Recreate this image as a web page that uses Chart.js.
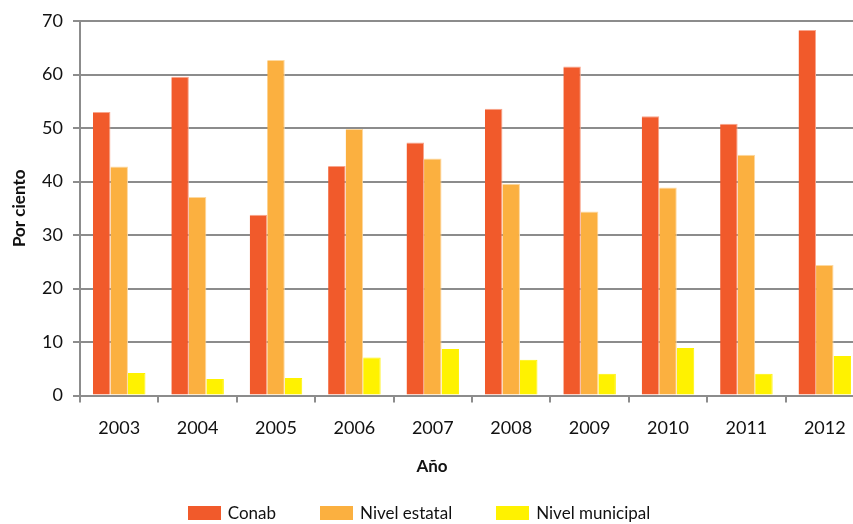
<!DOCTYPE html>
<html>
<head>
<meta charset="utf-8">
<script src="https://cdn.jsdelivr.net/npm/chart.js@4/dist/chart.umd.min.js"></script>
<style>
  body { margin: 0; overflow: hidden; background: #fff; }
  .wrap { position: relative; width: 864px; height: 524px; }
  #legend {
    position: absolute; left: 0; top: 502px; width: 838px;
    display: flex; justify-content: center; gap: 44px;
    font: 17px Lato, sans-serif; color: #111;
  }
  #legend .item { display: flex; align-items: center; }
  #legend .swatch { width: 33px; height: 14px; margin-right: 7px; }
</style>
</head>
<body>
<div class="wrap">
  <canvas id="chart" width="864" height="524"></canvas>
  <div id="legend"></div>
</div>
<script>
const years = ['2003', '2004', '2005', '2006', '2007', '2008', '2009', '2010', '2011', '2012'];
const conab = [53.0, 59.6, 33.8, 42.9, 47.3, 53.6, 61.5, 52.2, 50.8, 68.3];
const nivelEstatal = [42.8, 37.1, 62.7, 49.8, 44.3, 39.6, 34.4, 38.9, 45.0, 24.4];
const nivelMunicipal = [4.2, 3.1, 3.3, 7.1, 8.7, 6.7, 4.1, 8.9, 4.1, 7.4];
const yTicks = [0, 10, 20, 30, 40, 50, 60, 70];

const gridGrey = '#8c8c8c';
const font = { family: 'Lato, sans-serif', size: 18 };

const series = [
  { label: 'Conab', data: conab, color: '#F15A2B', edge: '#F8A58C' },
  { label: 'Nivel estatal', data: nivelEstatal, color: '#FBB040', edge: '#FDD9A0' },
  { label: 'Nivel municipal', data: nivelMunicipal, color: '#FFF200', edge: '#FFF200' }
];

const ctx = document.getElementById('chart').getContext('2d');
const chart = new Chart(ctx, {
  type: 'bar',
  data: {
    labels: years,
    datasets: series.map(s => ({
      label: s.label,
      data: s.data,
      backgroundColor: s.color,
      borderColor: s.edge,
      borderWidth: { top: 1, right: 1, left: 0, bottom: 0 },
      borderSkipped: 'bottom',
      categoryPercentage: 0.67,
      barPercentage: 1.0
    }))
  },
  options: {
    responsive: false,
    animation: false,
    layout: { padding: { top: 21, right: 0, bottom: 37, left: 0 } },
    plugins: {
      legend: { display: false },
      tooltip: { enabled: false },
      title: {
        display: true,
        position: 'bottom',
        text: 'Año',
        color: '#111',
        font: { family: 'Lato, sans-serif', size: 17, weight: 'bold' },
        padding: { top: 21, bottom: 10 }
      }
    },
    scales: {
      x: {
        afterFit: scale => { scale.height = 40; },
        grid: { drawOnChartArea: false, offset: true, tickLength: 7, color: gridGrey, lineWidth: 2 },
        border: { color: gridGrey, width: 2 },
        ticks: { color: '#111', font: font, padding: 15, maxRotation: 0 }
      },
      y: {
        min: 0,
        max: 70,
        afterFit: scale => { scale.width = 80; },
        afterBuildTicks: scale => { scale.ticks = yTicks.map(v => ({ value: v })); },
        grid: { color: gridGrey, lineWidth: 2, tickLength: 7 },
        border: { color: gridGrey, width: 2 },
        ticks: { color: '#111', font: font, padding: 10 },
        title: {
          display: true,
          text: 'Por ciento',
          color: '#111',
          font: { family: 'Lato, sans-serif', size: 17, weight: 'bold' },
          padding: { top: 9, bottom: 0 }
        }
      }
    }
  }
});

// simple html legend built from the datasets
const legendEl = document.getElementById('legend');
chart.data.datasets.forEach(ds => {
  const item = document.createElement('div');
  item.className = 'item';
  const sw = document.createElement('span');
  sw.className = 'swatch';
  sw.style.background = ds.backgroundColor;
  const txt = document.createElement('span');
  txt.textContent = ds.label;
  item.appendChild(sw);
  item.appendChild(txt);
  legendEl.appendChild(item);
});
</script>
</body>
</html>
